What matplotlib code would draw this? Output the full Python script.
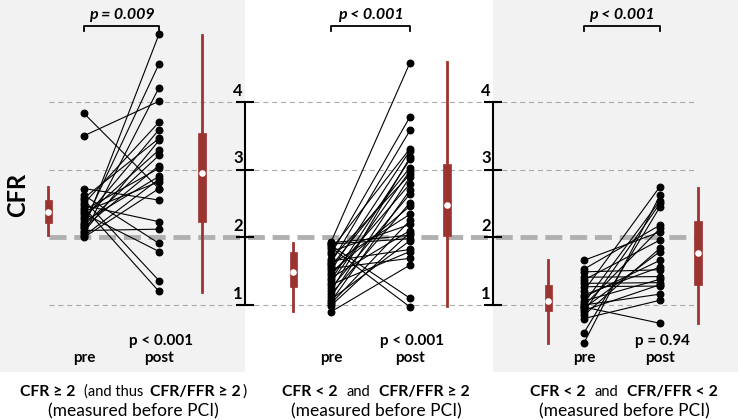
import numpy as np
import matplotlib.pyplot as plt
from matplotlib.patches import Rectangle

plt.rcParams['font.family'] = ['Lato', 'DejaVu Sans']

# CFR pre -> post PCI, paired per patient
pre_a = [3.83, 3.50, 2.72, 2.62, 2.58, 2.55, 2.50, 2.47, 2.44, 2.40, 2.38, 2.35,
         2.30, 2.27, 2.23, 2.20, 2.18, 2.15, 2.13, 2.10, 2.08, 2.05, 2.02, 2.00]
post_a = [2.72, 4.01, 2.55, 1.91, 3.46, 1.36, 3.70, 2.23, 1.20, 3.02, 2.82, 1.79,
          3.29, 3.59, 2.90, 4.56, 3.21, 3.06, 5.00, 2.12, 3.43, 4.21, 2.86, 2.72]

pre_b = [1.93, 1.92, 1.90, 1.88, 1.85, 1.82, 1.79, 1.75, 1.68, 1.65, 1.62, 1.60, 1.57, 1.54, 1.51,
         1.48, 1.44, 1.40, 1.37, 1.33, 1.30, 1.25, 1.20, 1.16, 1.12, 1.08, 1.05, 1.02, 0.99, 0.90]
post_b = [4.58, 2.03, 1.98, 1.10, 0.97, 3.31, 2.19, 3.78, 2.93, 1.82, 3.58, 2.34, 3.03, 1.69, 3.28,
          2.46, 2.79, 2.10, 3.15, 2.98, 1.79, 2.64, 3.18, 2.51, 2.89, 1.95, 2.70, 2.25, 2.07, 1.59]

pre_c = [1.66, 1.53, 1.49, 1.41, 1.37, 1.32, 1.27, 1.21, 1.15, 1.12, 1.06,
         1.03, 1.00, 0.99, 0.97, 0.95, 0.92, 0.90, 0.85, 0.80, 0.59, 0.44]
post_c = [2.08, 2.18, 1.52, 1.42, 1.96, 1.33, 1.28, 2.75, 1.56, 1.66, 1.38,
          2.54, 1.16, 2.13, 0.73, 1.79, 1.30, 2.50, 1.84, 1.07, 2.45, 2.62]

# summary boxes (whiskers, IQR, median) as drawn beside each column
box_pre = [dict(whislo=2.03, q1=2.21, med=2.37, q3=2.55, whishi=2.74),
           dict(whislo=0.91, q1=1.27, med=1.49, q3=1.78, whishi=1.92),
           dict(whislo=0.44, q1=0.91, med=1.06, q3=1.30, whishi=1.66)]
box_post = [dict(whislo=1.19, q1=2.23, med=2.95, q3=3.54, whishi=4.99),
            dict(whislo=0.99, q1=2.02, med=2.48, q3=3.08, whishi=4.59),
            dict(whislo=0.73, q1=1.30, med=1.77, q3=2.24, whishi=2.73)]

p_top = ['p = 0.009', 'p < 0.001', 'p < 0.001']
p_bottom = ['p < 0.001', 'p < 0.001', 'p = 0.94']
ticks = [1, 2, 3, 4]

RED = '#9b3431'


def v(y):
    # pixel row -> CFR value
    return 1 + (305 - y) / 67.7


fig = plt.figure(figsize=(7.38, 4.2), dpi=100)
ax = fig.add_axes([0, 0, 1, 1])
ax.set_xlim(0, 738)
ax.set_ylim(v(420), v(0))
ax.axis('off')

# grey panels
for x0, x1 in [(0, 245), (493, 738)]:
    ax.add_patch(Rectangle((x0, v(372)), x1 - x0, v(0) - v(372),
                           facecolor='#f2f2f2', edgecolor='none', zorder=0))

# reference lines
for t in [1, 3, 4]:
    for x0, x1 in [(49, 245), (245, 493), (493, 695)]:
        ax.plot([x0, x1], [t, t], color='#a8a8a8', lw=0.8, ls=(0, (4.5, 3.5)), zorder=1)
ax.plot([49, 695], [2, 2], color='#b0b0b0', lw=3.5, ls=(0, (3.5, 1.6)), zorder=1)

# CFR axes
for xa in [245, 493]:
    ax.plot([xa, xa], [1, 4], color='black', lw=1.5, zorder=3)
    for t in ticks:
        ax.plot([xa - 8, xa + 8], [t, t], color='black', lw=1.5, zorder=3)
        ax.text(xa - 7, t + 0.05, str(t), ha='center', va='bottom',
                fontsize=12, fontweight='bold')

ax.text(18, v(195), 'CFR', rotation=90, ha='center', va='center',
        fontsize=17, fontweight='bold')

groups = [(pre_a, post_a), (pre_b, post_b), (pre_c, post_c)]
xpos = [(48, 84, 159, 202), (293, 331, 410, 447), (548, 584, 660, 698)]

for i, ((pre, post), (xb1, xd1, xd2, xb2)) in enumerate(zip(groups, xpos)):
    for a, b in zip(pre, post):
        ax.plot([xd1, xd2], [a, b], color='black', lw=0.8, zorder=4)
    ax.scatter([xd1] * len(pre), pre, s=22, color='black', zorder=5)
    ax.scatter([xd2] * len(post), post, s=22, color='black', zorder=5)

    ax.bxp([box_pre[i], box_post[i]], positions=[xb1, xb2], widths=[7, 8],
           showfliers=False, showcaps=False, patch_artist=True,
           boxprops=dict(facecolor=RED, edgecolor=RED, lw=0.5),
           whiskerprops=dict(color=RED, lw=2),
           medianprops=dict(visible=False), manage_ticks=False, zorder=3)
    ax.scatter([xb1, xb2], [box_pre[i]['med'], box_post[i]['med']],
               s=14, color='white', zorder=6)

    # bracket with p value
    yb, yt = v(26), v(31)
    ax.plot([xd1, xd1, xd2, xd2], [yt, yb, yb, yt], color='black', lw=1.3)
    ax.text((xd1 + xd2) / 2, v(15), p_top[i], ha='center', va='center',
            fontsize=11.5, fontweight='bold', style='italic')

    ax.text(xd2 + 2, v(341), p_bottom[i], ha='center', va='center',
            fontsize=11, fontweight='bold')
    ax.text(xd1, v(358), 'pre', ha='center', va='center', fontsize=11, fontweight='bold')
    ax.text(xd2, v(358), 'post', ha='center', va='center', fontsize=11, fontweight='bold')

# captions under each panel: (text, weight, size, gap after in px)
captions = [
    [('CFR ≥ 2', 'bold', 11.3, 9), ('(and thus', 'normal', 10.5, 7),
     ('CFR/FFR ≥ 2', 'bold', 11.3, 1), (')', 'normal', 11.3, 0)],
    [('CFR < 2', 'bold', 11.3, 9), ('and', 'normal', 10.5, 9), ('CFR/FFR ≥ 2', 'bold', 11.3, 0)],
    [('CFR < 2', 'bold', 11.3, 9), ('and', 'normal', 10.5, 9), ('CFR/FFR < 2', 'bold', 11.3, 0)],
]
centers = [133, 376, 624]

parts = []
for cap, xc in zip(captions, centers):
    texts = [ax.text(0, v(392), s, fontweight=w, fontsize=fs, ha='left', va='center')
             for s, w, fs, g in cap]
    parts.append((texts, [g for *_, g in cap], xc))
    ax.text(xc, v(411), '(measured before PCI)', ha='center', va='center', fontsize=12.5)

fig.canvas.draw()
r = fig.canvas.get_renderer()
for texts, gaps, xc in parts:
    widths = [t.get_window_extent(r).width for t in texts]
    x = xc - (sum(widths) + sum(gaps)) / 2
    for t, w, g in zip(texts, widths, gaps):
        t.set_x(x)
        x += w + g

fig.savefig('out.png', dpi=100)
